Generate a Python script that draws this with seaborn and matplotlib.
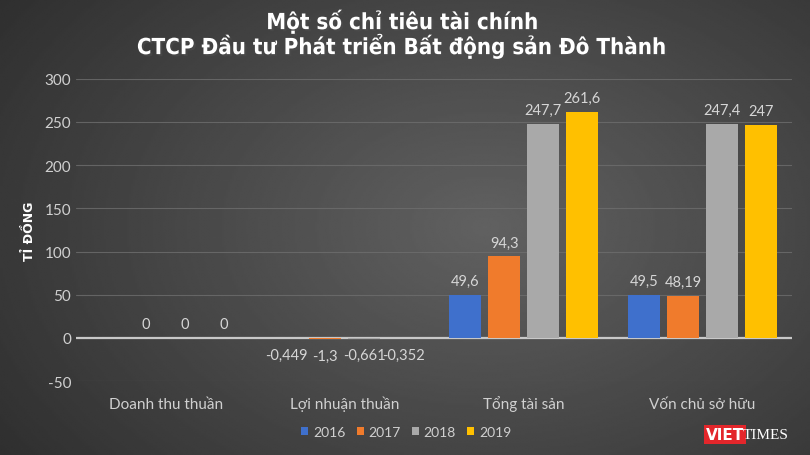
import numpy as np
import pandas as pd
import seaborn as sns
import matplotlib.pyplot as plt
import matplotlib.patheffects as pe

categories = ["Doanh thu thuần", "Lợi nhuận thuần", "Tổng tài sản", "Vốn chủ sở hữu"]
years = ["2016", "2017", "2018", "2019"]
v2016 = [np.nan, -0.449, 49.6, 49.5]
v2017 = [0, -1.3, 94.3, 48.19]
v2018 = [0, -0.661, 247.7, 247.4]
v2019 = [0, -0.352, 261.6, 247]
colors = ["#3f70cc", "#f07b2c", "#a9a9a9", "#ffc000"]
yticks = [-50, 0, 50, 100, 150, 200, 250, 300]

rows = []
for y, vals in zip(years, [v2016, v2017, v2018, v2019]):
    for c, v in zip(categories, vals):
        rows.append({"cat": c, "year": y, "val": v})
df = pd.DataFrame(rows)

sns.set_style("dark")
plt.rcParams["font.family"] = ["Lato", "DejaVu Sans"]
plt.rcParams["axes.unicode_minus"] = False
fig = plt.figure(figsize=(8.1, 4.56), dpi=100)

# dark radial background
bg = fig.add_axes([0, 0, 1, 1], zorder=-10)
xx, yy = np.meshgrid(np.linspace(0, 1, 400), np.linspace(0, 1, 240))
d = np.sqrt(((xx - 0.6) / 0.75) ** 2 + ((yy - 0.5) / 0.9) ** 2)
bg.imshow(0.38 - 0.2 * d, cmap="gray", vmin=0, vmax=1, aspect="auto",
          extent=[0, 1, 0, 1], interpolation="bilinear")
bg.axis("off")

ax = fig.add_axes([0.094, 0.162, 0.884, 0.663])
ax.set_facecolor("none")
sns.barplot(data=df, x="cat", y="val", hue="year", hue_order=years,
            order=categories, palette=colors, width=0.872, gap=0.18,
            ax=ax, legend=True, saturation=1, zorder=3,
            edgecolor="none", linewidth=0)

ax.set_ylim(-50, 300)
ax.set_yticks(yticks)
ax.set_xlim(-0.5, 3.5)
ax.grid(axis="y", color="#6e6e6e", linewidth=0.8, alpha=0.8)
ax.grid(axis="x", visible=False)
ax.axhline(0, color="#c8c8c8", linewidth=1.6, zorder=2)
for s in ax.spines.values():
    s.set_visible(False)
ax.tick_params(axis="both", colors="#d0d0d0", labelsize=11, length=0)
ax.tick_params(axis="x", pad=19)
for t in ax.get_xticklabels():
    t.set_va("baseline")
ax.set_xlabel("")
ax.set_ylabel("TỈ ĐỒNG", color="white", fontsize=9, fontweight="bold", labelpad=6,
              family=["DejaVu Sans"])

# data labels
for cont, vals in zip(ax.containers, [v2016, v2017, v2018, v2019]):
    for bar in cont:
        ci = int(round(bar.get_x() + bar.get_width() / 2))
        v = vals[ci]
        if np.isnan(v):
            continue
        txt = f"{v:g}".replace(".", ",")
        off = 5 if v >= 0 else -7
        ax.annotate(txt, (bar.get_x() + bar.get_width() / 2, v),
                    xytext=(0, off), textcoords="offset points",
                    ha="center", va="bottom" if v >= 0 else "top",
                    color="#d6d6d6", fontsize=10.5)

leg = ax.legend(loc="center", bbox_to_anchor=(0.461, -0.168), ncol=4,
                frameon=False, fontsize=10, handlelength=0.5, handleheight=0.5,
                handletextpad=0.35, columnspacing=0.8)
for t in leg.get_texts():
    t.set_color("#d0d0d0")

fig.text(0.497, 0.923, "Một số chỉ tiêu tài chính\nCTCP Đầu tư Phát triển Bất động sản Đô Thành",
         ha="center", va="center", color="white", fontsize=16, fontweight="bold",
         fontstretch="condensed", family=["DejaVu Sans"], linespacing=1.05,
         path_effects=[pe.withSimplePatchShadow(offset=(1.5, -1.5), alpha=0.6)])

# watermark
fig.text(0.895, 0.045, "VIET", color="white", fontsize=11, fontweight="bold",
         ha="center", va="center", family=["DejaVu Sans"],
         bbox=dict(boxstyle="square,pad=0.15", fc="#e3262b", ec="none"))
fig.text(0.945, 0.045, "TIMES", color="white", fontsize=11,
         family=["Liberation Serif"], ha="center", va="center")

fig.savefig("out.png", dpi=100)
